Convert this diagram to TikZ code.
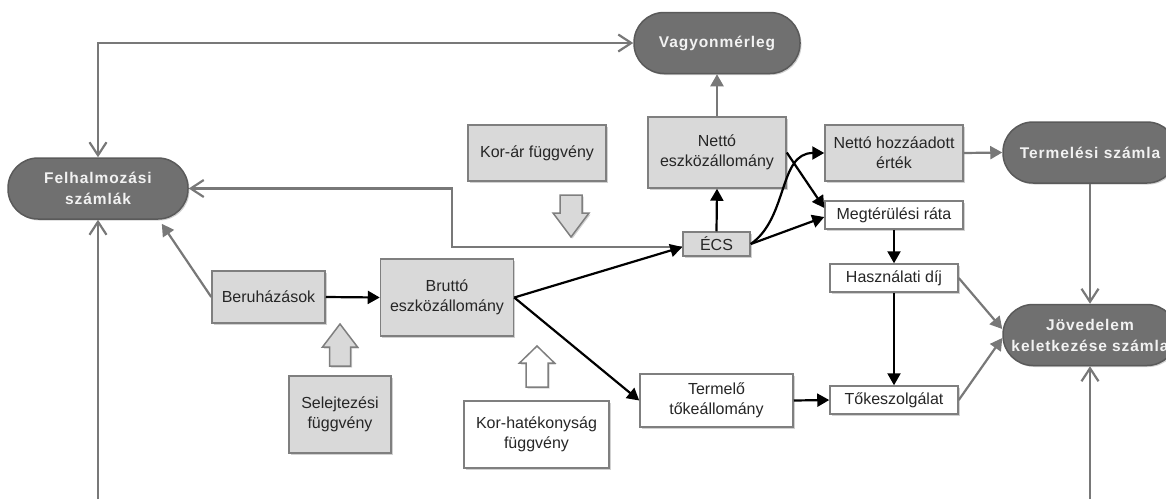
\documentclass[tikz,border=0pt]{standalone}
\usepackage{fontspec}
\setmainfont{Liberation Sans}
\newfontfamily\pillfont[LetterSpace=6]{Liberation Sans}
\usetikzlibrary{arrows.meta,shadows,calc}

\definecolor{boxgray}{HTML}{D9D9D9}
\definecolor{edgegray}{HTML}{7F7F7F}
\definecolor{pillgray}{HTML}{707070}
\definecolor{pilledge}{HTML}{5A5A5A}
\definecolor{linegray}{HTML}{787878}

\begin{document}
\begin{tikzpicture}[x=1pt,y=-1pt,
  font=\fontsize{16}{20}\selectfont,
  every node/.style={inner sep=0pt, align=center},
  softshadow/.style={drop shadow={shadow xshift=1.5pt, shadow yshift=-1.5pt, fill=black, opacity=0.18}},
  basebox/.style={draw=edgegray, line width=1.5pt, text=black!85, softshadow},
  graybox/.style={basebox, fill=boxgray},
  whitebox/.style={basebox, fill=white},
  pill/.style={draw=pilledge, fill=pillgray, line width=1.5pt, rounded corners=30pt,
    minimum height=61pt, text=white!95!black, softshadow,
    font=\pillfont\bfseries\fontsize{15.5}{21}\selectfont},
  flow/.style={draw=black, line width=2.2pt, -{Triangle[length=12pt,width=13pt]}},
  gflow/.style={draw=linegray, line width=2.2pt, -{Triangle[length=12pt,width=13pt]}},
  feed/.style={draw=linegray, line width=2.2pt, -{Straight Barb[length=13pt,width=17pt]}},
  blk/.style={draw=edgegray, line width=1.5pt, line join=miter, softshadow}
]
\useasboundingbox (0,0) rectangle (1166,499);

% accounts (dark pills)
\node[pill, minimum width=166pt] (vagyon) at (717,43) {Vagyonmérleg};
\node[pill, minimum width=180pt] (felh) at (98,188.5) {Felhalmozási\\számlák};
\node[pill, minimum width=174pt] (term) at (1090,152.5) {Termelési számla};
\node[pill, minimum width=174pt] (jov) at (1090,335) {Jövedelem\\keletkezése számla};

% stock and flow boxes
\node[graybox, minimum width=138pt, minimum height=71pt] (nettoe) at (717,152.5) {Nettó\\eszközállomány};
\node[graybox, minimum width=138pt, minimum height=56pt] (korar) at (537,153) {Kor-ár függvény};
\node[graybox, minimum width=138pt, minimum height=56pt] (nha) at (894,153) {Nettó hozzáadott\\érték};
\node[whitebox, minimum width=138pt, minimum height=28pt] (megt) at (894,215) {Megtérülési ráta};
\node[graybox, minimum width=67pt, minimum height=24pt] (ecs) at (716.5,244) {ÉCS};
\node[graybox, minimum width=113pt, minimum height=52pt] (beru) at (268.5,297) {Beruházások};
\node[graybox, minimum width=133pt, minimum height=77pt] (brutto) at (447,297.5) {Bruttó\\eszközállomány};
\node[whitebox, minimum width=153pt, minimum height=53pt] (termelo) at (716.5,400.5) {Termelő\\tőkeállomány};
\node[whitebox, minimum width=128pt, minimum height=28pt] (haszn) at (894,278) {Használati díj};
\node[whitebox, minimum width=128pt, minimum height=28pt] (toke) at (894,400) {Tőkeszolgálat};
\node[graybox, minimum width=102pt, minimum height=77pt] (selejt) at (340,414.5) {Selejtezési\\függvény};
\node[whitebox, minimum width=145pt, minimum height=67pt] (korhat) at (536.5,434.5) {Kor-hatékonyság\\függvény};

% block arrows for the age functions
\draw[blk, fill=boxgray] (560,195) -- (582,195) -- (582,213) -- (589,213) -- (571,237)
  -- (553,213) -- (560,213) -- cycle;
\draw[blk, fill=boxgray] (329.5,366) -- (350.5,366) -- (350.5,347) -- (357.5,347) -- (340,324)
  -- (322.5,347) -- (329.5,347) -- cycle;
\draw[blk, fill=white] (526,387) -- (548,387) -- (548,363) -- (554.5,363) -- (537,346)
  -- (519.5,363) -- (526,363) -- cycle;

% feedback lines between accounts
\draw[feed, {Straight Barb[length=13pt,width=17pt]}-{Straight Barb[length=13pt,width=17pt]}]
  (felh.north) |- (vagyon.west);
\coordinate (kink) at (452,188.5);
\draw[feed] ($(ecs.west)+(0,3)$) -| (kink) -- (felh.east);
\draw[feed] (term.south) -- (jov.north);
\coordinate (jbot) at (1090,499);
\draw[feed] (jbot) -- (jov.south);
\coordinate (fbot) at (98,499);
\draw[feed] (fbot) -- (felh.south);

% gray flows into accounts
\draw[gflow] (nettoe.north) -- (vagyon.south);
\draw[gflow] (nha.east) -- (term.west);
\draw[gflow] (beru.west) -- ($(felh.-28)+(5,4)$);
\draw[gflow] (haszn.east) -- ($(jov.west)+(0,-6)$);
\draw[gflow] (toke.east) -- ($(jov.west)+(0,3)$);

% black flows
\draw[flow] (beru.east) -- (brutto.west);
\draw[flow] (brutto.east) -- ($(ecs.west)+(0,3)$);
\draw[flow] (brutto.east) -- (termelo.west);
\draw[flow] (termelo.east) -- (toke.west);
\draw[flow] (ecs.north) -- (nettoe.south);
\draw[flow] (nettoe.east) -- ($(megt.west)+(0,-7)$);
\draw[flow] (ecs.east) to[out=35,in=180] (nha.west);
\draw[flow] (ecs.east) -- ($(megt.west)+(0,2)$);
\draw[flow] (megt.south) -- (haszn.north);
\draw[flow] (haszn.south) -- (toke.north);
\end{tikzpicture}
\end{document}
